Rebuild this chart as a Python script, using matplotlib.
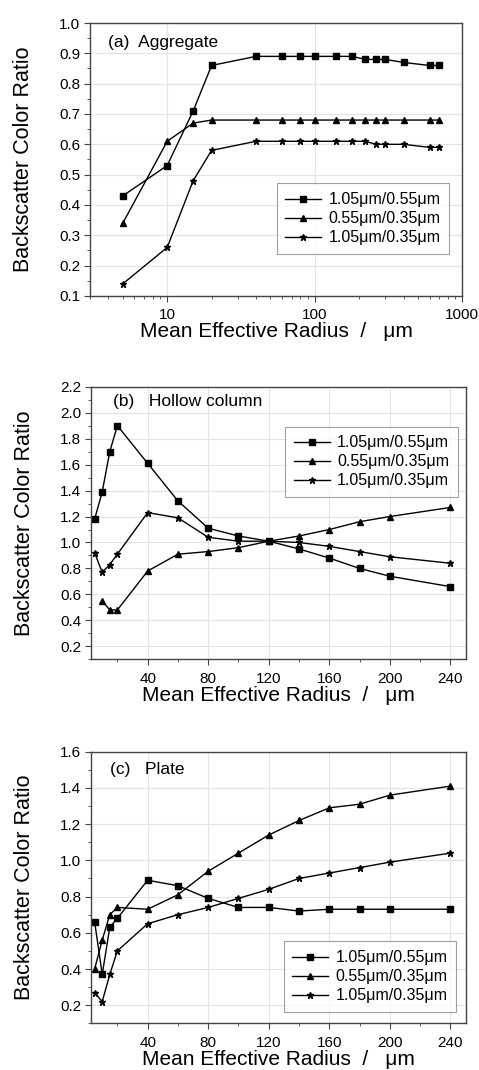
import numpy as np
import matplotlib.pyplot as plt
from matplotlib.ticker import MultipleLocator, FixedLocator, FixedFormatter, NullFormatter

plt.rcParams['font.family'] = ['Liberation Sans', 'DejaVu Sans']

# (a) aggregate, log x axis
xa = [5, 10, 15, 20, 40, 60, 80, 100, 140, 180, 220, 260, 300, 400, 600, 700]
a_sq = [0.43, 0.53, 0.71, 0.86, 0.89, 0.89, 0.89, 0.89, 0.89, 0.89, 0.88, 0.88, 0.88, 0.87, 0.86, 0.86]
a_tri = [0.34, 0.61, 0.67, 0.68, 0.68, 0.68, 0.68, 0.68, 0.68, 0.68, 0.68, 0.68, 0.68, 0.68, 0.68, 0.68]
a_star = [0.14, 0.26, 0.48, 0.58, 0.61, 0.61, 0.61, 0.61, 0.61, 0.61, 0.61, 0.60, 0.60, 0.60, 0.59, 0.59]

# (b) hollow column
xb = [5, 10, 15, 20, 40, 60, 80, 100, 120, 140, 160, 180, 200, 240]
b_sq = [1.18, 1.39, 1.70, 1.90, 1.61, 1.32, 1.11, 1.05, 1.01, 0.95, 0.88, 0.80, 0.74, 0.66]
b_tri = [np.nan, 0.55, 0.48, 0.48, 0.78, 0.91, 0.93, 0.96, 1.01, 1.05, 1.10, 1.16, 1.20, 1.27]
b_star = [0.92, 0.77, 0.83, 0.91, 1.23, 1.19, 1.04, 1.01, 1.01, 1.00, 0.97, 0.93, 0.89, 0.84]

# (c) plate
xc = [5, 10, 15, 20, 40, 60, 80, 100, 120, 140, 160, 180, 200, 240]
c_sq = [0.66, 0.37, 0.63, 0.68, 0.89, 0.86, 0.79, 0.74, 0.74, 0.72, 0.73, 0.73, 0.73, 0.73]
c_tri = [0.40, 0.56, 0.70, 0.74, 0.73, 0.81, 0.94, 1.04, 1.14, 1.22, 1.29, 1.31, 1.36, 1.41]
c_star = [0.27, 0.22, 0.37, 0.50, 0.65, 0.70, 0.74, 0.79, 0.84, 0.90, 0.93, 0.96, 0.99, 1.04]

labels = ['1.05μm/0.55μm', '0.55μm/0.35μm', '1.05μm/0.35μm']
titles = ['(a)  Aggregate', '(b)   Hollow column', '(c)   Plate']

fig = plt.figure(figsize=(4.79, 10.70), dpi=100)
axa = fig.add_axes([0.188, 0.7234, 0.777, 0.2551])
axb = fig.add_axes([0.190, 0.3838, 0.782, 0.2548])
axc = fig.add_axes([0.190, 0.0436, 0.782, 0.2539])

def draw(ax, x, sq, tri, star):
    ax.plot(x, sq, '-', color='black', lw=1, marker='s', ms=4, label=labels[0])
    ax.plot(x, tri, '-', color='black', lw=1, marker='^', ms=5, label=labels[1])
    ax.plot(x, star, '-', color='black', lw=1, marker='*', ms=5, label=labels[2])

draw(axa, xa, a_sq, a_tri, a_star)
draw(axb, xb, b_sq, b_tri, b_star)
draw(axc, xc, c_sq, c_tri, c_star)

axa.set_xscale('log')
axa.set_xlim(3, 1000)
axa.set_ylim(0.1, 1.0)
axa.xaxis.set_major_locator(FixedLocator([10, 100, 1000]))
axa.xaxis.set_major_formatter(FixedFormatter(['10', '100', '1000']))
axa.xaxis.set_minor_formatter(NullFormatter())
axa.yaxis.set_major_locator(MultipleLocator(0.1))
axa.yaxis.set_minor_locator(MultipleLocator(0.05))

for ax, top in [(axb, 2.2), (axc, 1.6)]:
    ax.set_xlim(2.6, 250)
    ax.set_ylim(0.1, top)
    ax.xaxis.set_major_locator(FixedLocator([40, 80, 120, 160, 200, 240]))
    ax.xaxis.set_minor_locator(FixedLocator([20, 60, 100, 140, 180, 220]))
    ax.yaxis.set_major_locator(FixedLocator(np.arange(0.2, top + 0.01, 0.2)))
    ax.yaxis.set_minor_locator(MultipleLocator(0.1))

legend_pos = [(0.965, 0.154), (0.979, 0.595), (0.975, 0.042)]
title_pos = [(0.048, 0.93), (0.06, 0.944), (0.052, 0.936)]
for ax, t, lp, tp in zip([axa, axb, axc], titles, legend_pos, title_pos):
    ax.grid(True, which='major', color='#e3e3e3', lw=0.8)
    ax.set_axisbelow(True)
    for s in ax.spines.values():
        s.set_color('#444444')
        s.set_linewidth(1.0)
    ax.tick_params(which='both', direction='out', top=False, right=False,
                   color='#444444', labelsize=11)
    ax.tick_params(axis='x', pad=5)
    ax.tick_params(axis='y', pad=3)
    ax.tick_params(which='major', length=4)
    ax.tick_params(which='minor', length=2.5)
    ax.set_xlabel('Mean Effective Radius  /   μm', fontsize=15, labelpad=0)
    ax.set_ylabel('Backscatter Color Ratio', fontsize=15.5, labelpad=18)
    ax.text(tp[0], tp[1], t, transform=ax.transAxes, fontsize=12.5, va='center', ha='left')
    leg = ax.legend(loc='lower right', bbox_to_anchor=lp, fontsize=11.5,
                    handlelength=2.25, handletextpad=0.45, frameon=True, fancybox=False,
                    edgecolor='#888888', borderpad=0.55, labelspacing=0.25,
                    borderaxespad=0)
    leg.get_frame().set_linewidth(0.8)

fig.savefig('out.png', dpi=100)
